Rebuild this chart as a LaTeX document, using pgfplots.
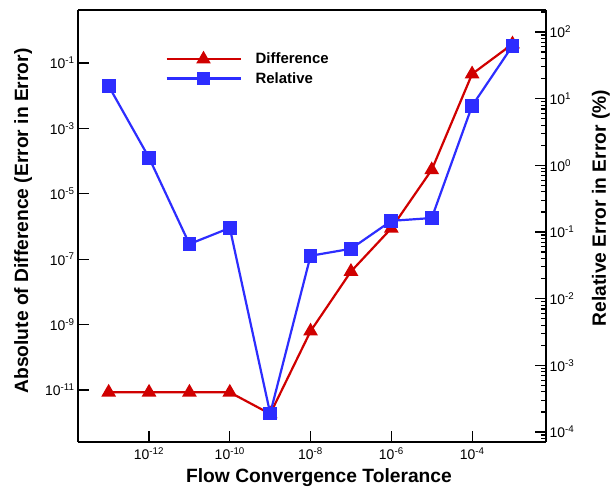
\documentclass[border=0pt]{standalone}
\usepackage{pgfplots}
\pgfplotsset{compat=1.18}
\usepackage{fontspec}
\setmainfont{Liberation Sans}
\definecolor{myred}{RGB}{208,0,0}
\definecolor{myblue}{RGB}{45,45,255}
\newcommand{\tl}[1]{10\textsuperscript{#1}}
\begin{document}
\begin{tikzpicture}
\useasboundingbox (-78bp,-46bp) rectangle (532bp,442bp);
\begin{axis}[
  at={(0,0)}, anchor=south west,
  scale only axis, width=468bp, height=432bp,
  xmode=log, ymode=log,
  xmin=1.74e-14, xmax=6.76e-3,
  ymin=2.57e-13, ymax=4.17,
  tick align=inside,
  major tick length=11bp,
  every tick/.style={black, line width=1.2pt},
  axis line style={black, line width=1.5pt},
  tick label style={font=\fontsize{14}{16}\selectfont},
  label style={font=\fontsize{19.3}{22}\selectfont\bfseries},
  axis y line*=left,
  axis x line*=bottom,
  xtick={1e-12,1e-10,1e-8,1e-6,1e-4},
  xticklabels={\tl{-12},\tl{-10},\tl{-8},\tl{-6},\tl{-4}},
  xticklabel style={yshift=-2bp},
  minor xtick={},
  ytick={1e-11,1e-9,1e-7,1e-5,1e-3,1e-1},
  yticklabels={\tl{-11},\tl{-9},\tl{-7},\tl{-5},\tl{-3},\tl{-1}},
  minor ytick={},
  xlabel={Flow Convergence Tolerance},
  ylabel={Absolute of Difference (Error in Error)},
  xlabel style={yshift=-2bp, xshift=7bp},
  ylabel style={yshift=6bp, xshift=5bp},
  clip=false,
]
\addplot[color=myred, line width=2.2bp, mark=triangle*, mark size=6.3bp, mark options={solid}]
coordinates {
(1e-13,8.5e-12) (1e-12,8.5e-12) (1e-11,8.5e-12) (1e-10,8.5e-12)
(1e-9,1.86e-12) (1e-8,6.3e-10) (1e-7,4.2e-8) (1e-6,8.8e-7)
(1e-5,5.4e-5) (1e-4,0.046) (1e-3,0.38)
};
\end{axis}
\begin{axis}[
  at={(0,0)}, anchor=south west,
  scale only axis, width=468bp, height=432bp,
  xmode=log, ymode=log,
  xmin=1.74e-14, xmax=6.76e-3,
  ymin=7.08e-5, ymax=213.8,
  tick align=inside,
  major tick length=11bp,
  minor tick length=5bp,
  every tick/.style={black, line width=1.2pt},
  axis line style={black, line width=1.5pt},
  tick label style={font=\fontsize{14}{16}\selectfont},
  label style={font=\fontsize{19.3}{22}\selectfont\bfseries},
  axis y line*=right,
  axis x line*=top,
  xtick=\empty, minor xtick={},
  ytick={1e-4,1e-3,1e-2,1e-1,1,10,100},
  yticklabels={\tl{-4},\tl{-3},\tl{-2},\tl{-1},\tl{0},\tl{1},\tl{2}},
  minor ytick={8e-5,9e-5,
    2e-4,3e-4,4e-4,5e-4,6e-4,7e-4,8e-4,9e-4,
    2e-3,3e-3,4e-3,5e-3,6e-3,7e-3,8e-3,9e-3,
    2e-2,3e-2,4e-2,5e-2,6e-2,7e-2,8e-2,9e-2,
    0.2,0.3,0.4,0.5,0.6,0.7,0.8,0.9,
    2,3,4,5,6,7,8,9,
    20,30,40,50,60,70,80,90,200},
  ylabel={Relative Error in Error (\%)},
  ylabel style={yshift=-11bp, xshift=18bp},
  legend style={draw=none, fill=none, at={(0.18,0.91)}, anchor=north west,
    font=\fontsize{15}{18}\selectfont\bfseries, row sep=3bp,
    /tikz/every odd column/.append style={column sep=12bp}},
  legend cell align=left,
  legend image code/.code={
    \draw[#1, mark repeat=2, mark phase=2] plot coordinates {(0bp,0bp) (37bp,0bp) (74bp,0bp)};
  },
  clip=false,
]
\addlegendimage{color=myred, line width=2.2bp, mark=triangle*, mark size=6.3bp}
\addlegendentry{Difference}
\addplot[color=myblue, line width=2.2bp, mark=square*, mark size=5.8bp, mark options={solid}]
coordinates {
(1e-13,15.5) (1e-12,1.30) (1e-11,0.066) (1e-10,0.115)
(1e-9,1.9e-4) (1e-8,0.044) (1e-7,0.056) (1e-6,0.147)
(1e-5,0.162) (1e-4,7.8) (1e-3,62)
};
\addlegendentry{Relative}
\end{axis}
\end{tikzpicture}
\end{document}
